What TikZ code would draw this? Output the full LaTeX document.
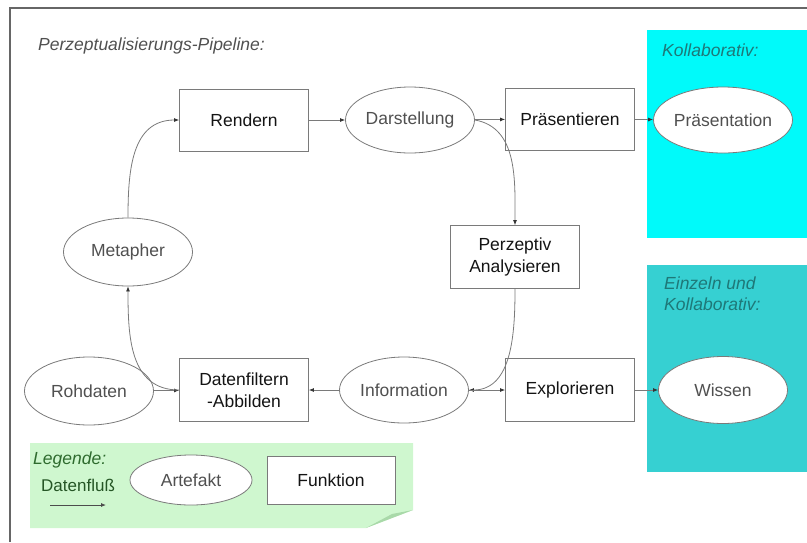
\documentclass[tikz,border=0pt]{standalone}
\usepackage{fontspec}
\setmainfont{Liberation Sans}
\usetikzlibrary{shapes.geometric,arrows.meta}
\definecolor{lineg}{HTML}{7A7A7A}
\definecolor{boxtxt}{HTML}{141414}
\definecolor{elltxt}{HTML}{505050}
\definecolor{cyanA}{HTML}{00FAFA}
\definecolor{tealB}{HTML}{36D0D2}
\definecolor{legbg}{HTML}{CFF7CF}
\definecolor{legcurl}{HTML}{A9D9A9}
\definecolor{legtxt}{HTML}{2E6B2E}
\definecolor{kolltxt}{HTML}{1E7878}
\tikzset{
  funcbox/.style={draw=lineg, line width=0.8pt, fill=white, rectangle, minimum width=129pt, minimum height=62pt,
    inner sep=0pt, align=center, text=boxtxt, font=\fontsize{17.5}{22}\selectfont},
  artbox/.style={draw=lineg, line width=0.8pt, fill=white, ellipse, minimum width=129pt, minimum height=66pt,
    inner sep=0pt, text=elltxt, font=\fontsize{17.5}{22}\selectfont},
  flow/.style={draw=lineg, line width=0.8pt, -{Latex[length=5pt,width=4pt,color=black!80]}},
  caption/.style={anchor=west, font=\fontsize{17.5}{20.5}\selectfont\itshape, inner sep=0pt}
}
\begin{document}
\begin{tikzpicture}[x=1pt,y=-1pt]
\useasboundingbox (0,0) rectangle (807,542);
% frame
\draw[color=black!60, line width=1.2pt] (10,542) -- (10,8) -- (807,8);
% coloured areas
\fill[cyanA] (647,30) rectangle (807,238);
\fill[tealB] (647,265) rectangle (807,472);
\fill[legbg] (30,443) -- (413,443) -- (413,510) -- (366,528) -- (30,528) -- cycle;
\fill[legcurl] (413,510) -- (366,528) -- (392,514) -- cycle;

% captions
\node[caption, text=elltxt] (cap) at (38,46) {Perzeptualisierungs-Pipeline:};
\node[caption, text=kolltxt] (capk) at (662,50) {Kollaborativ:};
\node[caption, text=kolltxt, align=left, anchor=north west] (cape) at (664,277) {Einzeln und\\Kollaborativ:};

% pipeline nodes
\node[funcbox] (rend) at (244,120) {Rendern};
\node[artbox] (dar) at (410,120) {Darstellung};
\node[funcbox] (praes) at (570,119) {Präsentieren};
\node[artbox] (praesn) at (723,120) {Präsentation};
\node[funcbox, minimum height=63pt] (perz) at (515,257) {Perzeptiv\\Analysieren};
\node[artbox, minimum height=68pt] (meta) at (128,252) {Metapher};
\node[artbox, minimum height=68pt] (roh) at (89,391) {Rohdaten};
\node[funcbox, minimum height=63pt] (filt) at (244,390) {Datenfiltern\\-Abbilden};
\node[artbox] (info) at (404,390) {Information};
\node[funcbox, minimum height=63pt] (expl) at (570,390) {Explorieren};
\node[artbox, minimum height=67pt] (wiss) at (723,390) {Wissen};

% connectors
\draw[flow] (roh) -- (filt);
\draw[flow] (info) -- (filt);
\draw[flow] (filt.west) to[out=180, in=-90, looseness=1.1] (meta.south);
\draw[flow] (meta.north) to[out=90, in=180, looseness=1.1] (rend.west);
\draw[flow] (rend) -- (dar);
\draw[flow] (dar) -- (praes);
\draw[flow] (praes) -- (praesn);
\draw[flow] (dar.east) to[out=-10, in=90] (perz.north);
\draw[flow] (perz.south) to[out=-90, in=0] (info.east);
\draw[flow] (info) -- (expl);
\draw[flow] (expl) -- (wiss);

% legend
\node[caption, text=legtxt] (leg) at (33,460) {Legende:};
\node[anchor=west, inner sep=0pt, text=legtxt!80!black, font=\fontsize{17}{20}\selectfont] (dfl) at (41,485) {Datenfluß};
\coordinate (la) at (50,505);
\coordinate (lb) at (106,505);
\draw[draw=black!70, line width=0.8pt, -{Latex[length=5pt,width=4pt]}] (la) -- (lb);
\node[artbox, minimum width=122pt, minimum height=50pt] (art) at (191,480) {Artefakt};
\node[funcbox, minimum width=128pt, minimum height=48pt] (fun) at (331,480) {Funktion};
\end{tikzpicture}
\end{document}
